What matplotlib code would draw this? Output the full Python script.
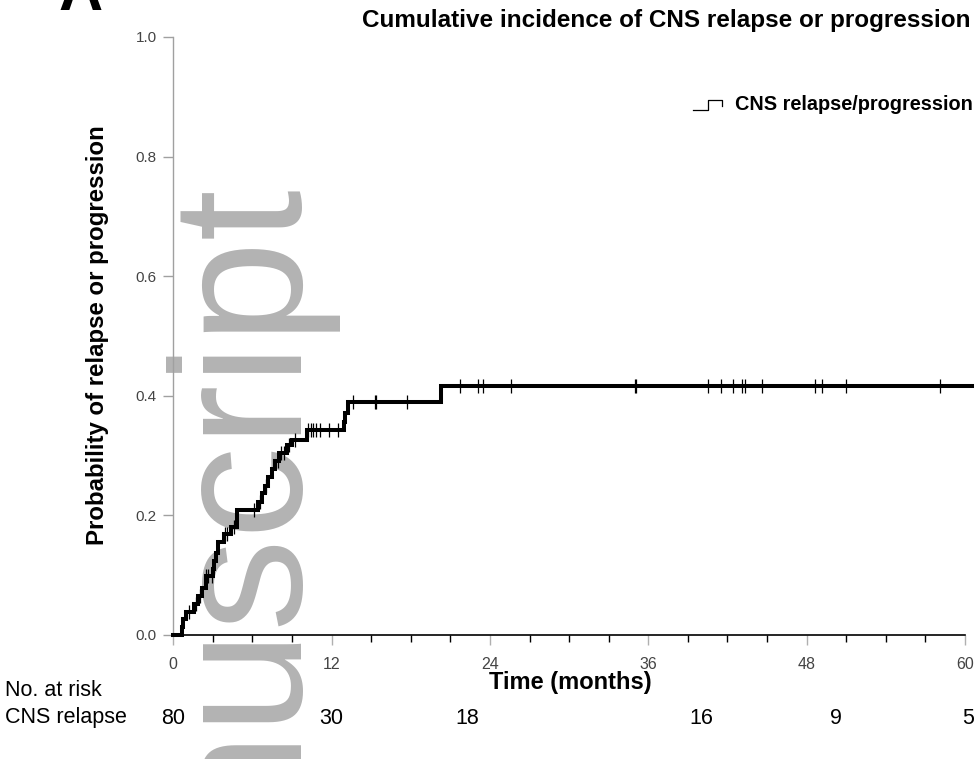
import numpy as np
import matplotlib
matplotlib.use("Agg")
import matplotlib.pyplot as plt
from matplotlib.lines import Line2D

plt.rcParams['font.family'] = ['Liberation Sans', 'DejaVu Sans']

# ---- data ----
event_times = [0.63, 0.75, 1.0, 1.6, 1.9, 2.15, 2.45, 3.0, 3.1, 3.2, 3.35,
               3.85, 4.35, 4.8, 6.45, 6.7, 6.95, 7.2, 7.45, 7.7, 8.0, 8.6,
               9.0, 10.1, 12.95, 13.05, 13.25, 20.3]
cum_incidence = [0.013, 0.026, 0.039, 0.052, 0.065, 0.078, 0.098, 0.111,
                 0.124, 0.137, 0.155, 0.169, 0.181, 0.209, 0.223, 0.237,
                 0.250, 0.264, 0.277, 0.291, 0.304, 0.318, 0.326, 0.343,
                 0.357, 0.371, 0.390, 0.416]
end_time = 60.5
censor_times = [1.2, 1.7, 2.0, 2.5, 2.6, 2.9, 3.9, 4.1, 4.6, 6.1, 6.6, 7.0,
                7.9, 8.2, 8.4, 8.8, 9.2, 10.2, 10.4, 10.6, 10.8, 11.1, 11.8,
                12.5, 13.6, 15.3, 15.35, 17.7, 21.7, 23.1, 23.5, 25.6, 35.0,
                35.05, 40.5, 41.5, 42.4, 43.1, 43.3, 44.6, 48.6, 49.2, 51.0,
                58.1]
risk_counts = [80, 30, 18, 16, 9, 5]
x_ticks = [0, 12, 24, 36, 48, 60]
y_ticks = [0.0, 0.2, 0.4, 0.6, 0.8, 1.0]

# layout for the at-risk numbers (months, as placed in the reference)
risk_pos = [0, 12, 22.3, 40.0, 50.2, 60.2]

W, H = 978, 759
fig = plt.figure(figsize=(W / 100, H / 100), dpi=100)
ax = fig.add_axes([173.3 / W, 1 - 635 / H, (965 - 173.3) / W, (635 - 37) / H])
ax.patch.set_visible(False)

def fx(px):
    return px / W

def fy(py):
    return 1 - py / H

# watermark
fig.text(fx(290), fy(176), "nuscript", rotation=90, rotation_mode='anchor',
         ha='right', va='baseline', fontsize=133, color='#b3b3b3', zorder=-5)

# curve
t = np.concatenate([[0.0], event_times, [end_time]])
v = np.concatenate([[0.0], cum_incidence, [cum_incidence[-1]]])
ax.step(t, v, where='post', color='black', lw=2.9, clip_on=False, zorder=5,
        solid_joinstyle='miter')
ct = np.array(censor_times)
idx = np.searchsorted(t, ct, side='right') - 1
cv = v[idx]
ax.plot(ct, cv, linestyle='none', marker='|', markersize=9.5,
        markeredgewidth=0.9, color='black', clip_on=False, zorder=6)

ax.set_xlim(0, 60)
ax.set_ylim(0, 1.0)

for s in ['top', 'right']:
    ax.spines[s].set_visible(False)
ax.spines['left'].set_color('#a0a0a0')
ax.spines['left'].set_linewidth(1.0)
ax.spines['bottom'].set_color('black')
ax.spines['bottom'].set_linewidth(1.2)

ax.set_xticks(x_ticks)
ax.set_xticklabels([str(x) for x in x_ticks])
ax.set_xticks([m for m in range(0, 61, 3) if m % 12 != 0], minor=True)
ax.set_yticks(y_ticks)
ax.set_yticklabels([f"{y:.1f}" for y in y_ticks])

ax.tick_params(axis='x', which='major', length=7, width=1.0, color='#b0b0b0',
               labelsize=11.5, labelcolor='#444444', pad=9)
ax.tick_params(axis='x', which='minor', length=5, width=1.0, color='black')
ax.tick_params(axis='y', which='major', length=7, width=1.0, color='#a0a0a0',
               labelsize=11, labelcolor='#444444', pad=5)

# titles / labels
fig.text(fx(971), fy(20), "Cumulative incidence of CNS relapse or progression",
         ha='right', va='center', fontsize=17.5, fontweight='bold')
fig.text(fx(98), fy(335), "Probability of relapse or progression", rotation=90,
         ha='center', va='center', fontsize=17.3, fontweight='bold')
fig.text(fx(570), fy(683), "Time (months)", ha='center', va='center',
         fontsize=17, fontweight='bold')
fig.text(fx(58), fy(9.5), "A", ha='left', va='baseline', fontsize=44,
         fontweight='bold')

# legend
fig.add_artist(Line2D([fx(693), fx(708), fx(708), fx(722), fx(722)],
                      [fy(110), fy(110), fy(100), fy(100), fy(106)],
                      transform=fig.transFigure, color='black', lw=0.9))
fig.text(fx(735), fy(105), "CNS relapse/progression", ha='left', va='center',
         fontsize=14.3, fontweight='bold')

# at-risk table
fig.text(fx(5), fy(690), "No. at risk", ha='left', va='center', fontsize=15.5)
fig.text(fx(5), fy(718), "CNS relapse", ha='left', va='center', fontsize=15.5)
for pos, n in zip(risk_pos, risk_counts):
    fig.text(ax.transData.transform((pos, 0))[0] / W, fy(718), str(n),
             ha='center', va='center', fontsize=15.5)

fig.savefig("out.png", dpi=100)
